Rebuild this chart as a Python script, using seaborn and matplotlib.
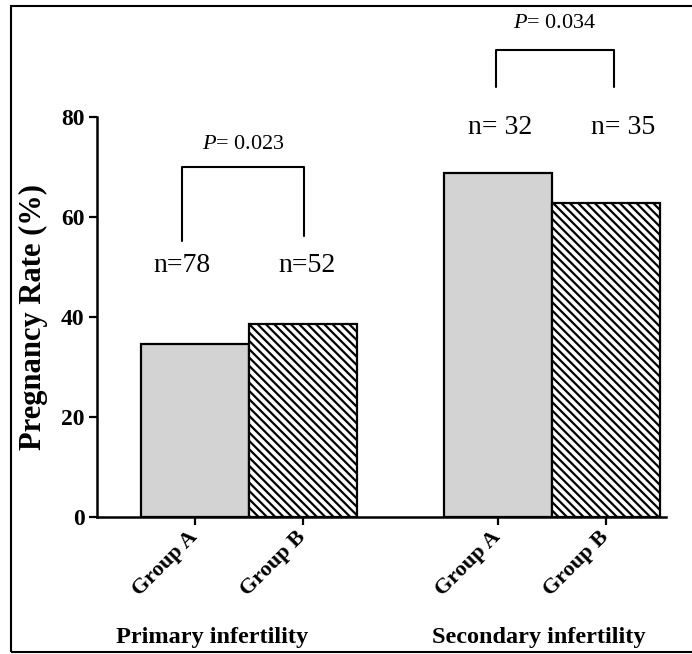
import seaborn as sns
import matplotlib.pyplot as plt
import pandas as pd
from matplotlib.patches import Rectangle

# Datos
tipos = ['Primary infertility', 'Secondary infertility']
grupos = ['Group A', 'Group B']
tasa_a = [34.6, 68.7]
tasa_b = [38.5, 62.7]
n_a = ['n=78', 'n= 32']
n_b = ['n=52', 'n= 35']
p_valores = ['0.023', '0.034']
y_ticks = [0, 20, 40, 60, 80]

datos = pd.DataFrame({
    'tipo': tipos * 2,
    'grupo': [grupos[0]] * 2 + [grupos[1]] * 2,
    'tasa': tasa_a + tasa_b,
})

sns.set_style('ticks')
plt.rcParams['font.family'] = ['Liberation Serif', 'DejaVu Serif']
plt.rcParams['mathtext.fontset'] = 'custom'
plt.rcParams['mathtext.rm'] = 'Liberation Serif'
plt.rcParams['mathtext.it'] = 'Liberation Serif:italic'
plt.rcParams['hatch.linewidth'] = 1.6
plt.rcParams['text.color'] = 'black'
plt.rcParams['xtick.color'] = 'black'
plt.rcParams['ytick.color'] = 'black'
plt.rcParams['axes.edgecolor'] = 'black'

fig = plt.figure(figsize=(6.92, 6.54), dpi=100)
ax = fig.add_axes([0.1402, 0.2095, 0.8223, 0.7829])

sns.barplot(data=datos, x='tipo', y='tasa', hue='grupo', order=tipos, hue_order=grupos,
            palette=['#d3d3d3', 'white'], saturation=1, width=0.713,
            edgecolor='black', linewidth=1.6, legend=False, ax=ax)

# Rayado para el grupo B
for barra in ax.containers[1]:
    barra.set_hatch('\\\\\\\\')

barras = list(ax.containers[0]) + list(ax.containers[1])
centros = sorted(b.get_x() + b.get_width() / 2 for b in barras)

ax.set_xlim(-0.502, 1.376)
ax.set_ylim(0, 102.4)
ax.set_xticks(centros, labels=[grupos[0], grupos[1]] * 2)
for t in ax.get_xticklabels():
    t.set_rotation(45)
    t.set_ha('right')
    t.set_va('center')
    t.set_rotation_mode('anchor')
    t.set_fontweight('bold')
    t.set_fontsize(16)
ax.set_yticks(y_ticks)
for t in ax.get_yticklabels():
    t.set_fontweight('bold')
    t.set_fontsize(17)
ax.tick_params(axis='x', length=6, width=1.6, pad=6)
ax.tick_params(axis='y', length=6, width=1.6, pad=3)
ax.set_xlabel('')
ax.set_ylabel('')

sns.despine(ax=ax)
ax.spines['left'].set_bounds(0, 80)
ax.spines['left'].set_linewidth(1.8)
ax.spines['bottom'].set_linewidth(1.8)

# Corchetes con valores P
corchetes = [(-0.221, 0.182, 70, 55.2, 56.2, 74.4),
             (0.815, 1.205, 93.4, 86.0, 86.0, 98.6)]
for (x1, x2, ysup, yi1, yi2, yp), p in zip(corchetes, p_valores):
    ax.plot([x1, x1, x2, x2], [yi1, ysup, ysup, yi2], color='black', lw=1.5)
    ax.text((x1 + x2) / 2, yp, f'$P$= {p}', ha='center', va='center', fontsize=16)

# Tamaños de muestra
pos_n = [(-0.221, 0.191, 50.2), (0.828, 1.234, 77.8)]
for (xa, xb, yn), na, nb in zip(pos_n, n_a, n_b):
    ax.text(xa, yn, na, ha='center', va='center', fontsize=20)
    ax.text(xb, yn, nb, ha='center', va='center', fontsize=20)

fig.text(33 / 692, 1 - 317 / 654, 'Pregnancy Rate (%)', rotation=90,
         ha='center', va='center', fontsize=22, fontweight='bold')
fig.text(212 / 692, 1 - 638 / 654, tipos[0], ha='center', va='center',
         fontsize=17.5, fontweight='bold')
fig.text(539 / 692, 1 - 638 / 654, tipos[1], ha='center', va='center',
         fontsize=17.5, fontweight='bold')

fig.add_artist(Rectangle((11 / 692, 2 / 654), 1.0, 646 / 654, transform=fig.transFigure,
                         fill=False, edgecolor='black', lw=1.5))

plt.savefig('out.png', dpi=100)
